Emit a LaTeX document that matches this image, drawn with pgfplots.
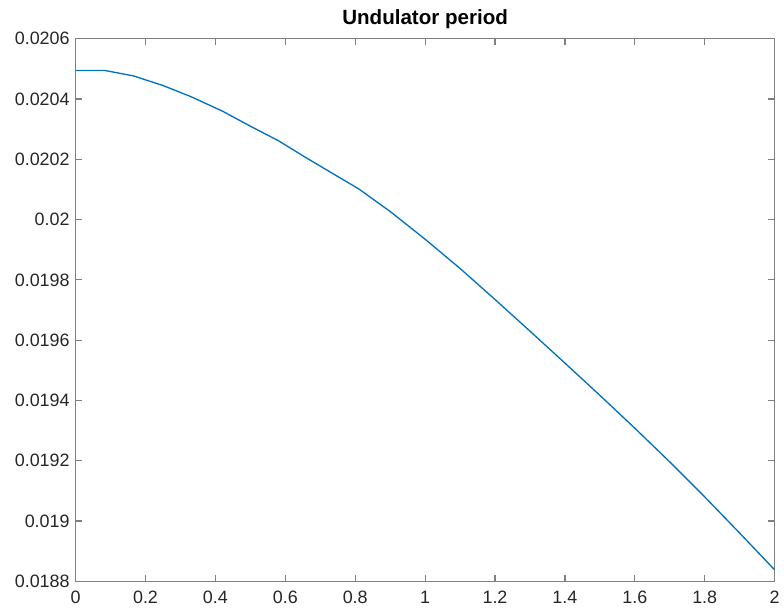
\documentclass[border=0pt]{standalone}
\usepackage{fontspec}
\setmainfont{Liberation Sans}
\usepackage{pgfplots}
\pgfplotsset{compat=1.18}
\definecolor{mlblue}{rgb}{0,0.447,0.741}
\definecolor{axgray}{gray}{0.5}

\begin{document}
\begin{tikzpicture}
\begin{axis}[
  name=ax,
  width=527pt, height=409pt,
  scale only axis,
  xmin=0, xmax=2,
  ymin=0.0188, ymax=0.0206,
  xtick={0,0.2,...,2.01},
  ytick={0.0188,0.019,0.0192,0.0194,0.0196,0.0198,0.02,0.0202,0.0204,0.0206},
  scaled y ticks=false,
  scaled x ticks=false,
  yticklabel style={/pgf/number format/fixed,/pgf/number format/precision=4, xshift=-1pt},
  xticklabel style={/pgf/number format/fixed,/pgf/number format/precision=1, yshift=-4pt},
  /pgf/number format/assume math mode=true,
  tick label style={font=\fontsize{13.5}{15}\selectfont, text=black!85},
  title={\bfseries Undulator period},
  title style={font=\fontsize{15.5}{17}\selectfont, yshift=-2pt},
  tick align=inside,
  major tick length=5pt,
  axis line style={axgray, line width=0.9pt},
  every tick/.style={axgray, line width=0.9pt},
  xtick pos=both, ytick pos=both,
]
\addplot[mlblue, line width=1pt] coordinates {
  (0,0.020495) (0.083,0.020495) (0.165,0.020477) (0.25,0.020445)
  (0.33,0.020408) (0.42,0.020360) (0.50,0.020310) (0.58,0.020262)
  (0.66,0.020205) (0.74,0.020150) (0.81,0.020102) (0.90,0.020027)
  (1.0,0.019935) (1.1,0.019838) (1.2,0.019735) (1.3,0.019630)
  (1.4,0.019524) (1.5,0.019417) (1.6,0.019308) (1.7,0.019196)
  (1.8,0.019080) (1.9,0.018960) (2.0,0.018838)
};
\end{axis}
% page margins as in the reference
\path ([shift={(-57pt,-21pt)}]ax.south west) rectangle ([shift={(3.75pt,29.25pt)}]ax.north east);
\end{tikzpicture}
\end{document}
